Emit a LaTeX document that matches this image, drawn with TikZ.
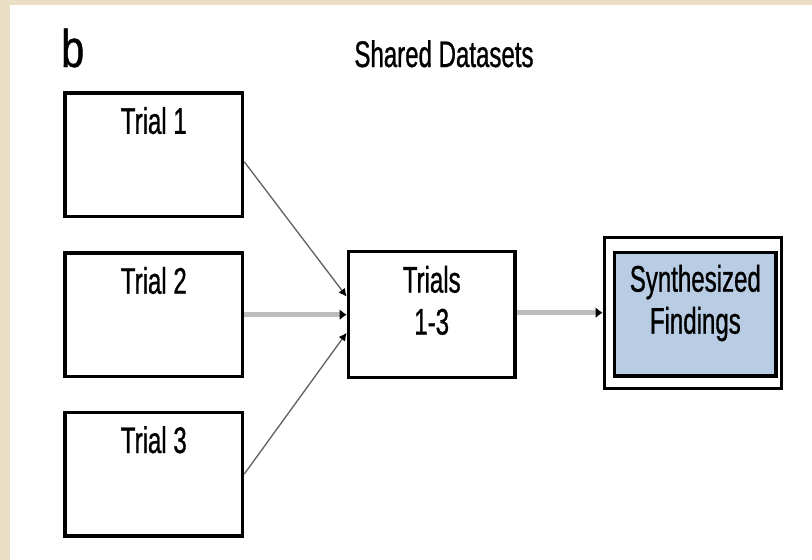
\documentclass[tikz,border=0pt]{standalone}
\usepackage{fontspec}
\setmainfont{Liberation Sans}[FakeStretch=0.65,FakeBold=0.8]
\newfontfamily\tagfont{Liberation Sans}[FakeStretch=0.78,FakeBold=0.8]
\usepackage{tikz}
\usetikzlibrary{arrows.meta,calc,positioning}
\definecolor{paper}{RGB}{234,222,197}
\definecolor{synfill}{RGB}{184,204,228}
\definecolor{feedgray}{RGB}{96,96,96}
\definecolor{maingray}{RGB}{188,188,188}

\begin{document}
\begin{tikzpicture}[x=1pt,y=1pt,
  trialbox/.style={draw,line width=3.3pt,minimum width=177.7pt,minimum height=123.7pt,inner sep=0pt},
  boxtext/.style={font=\fontsize{37}{42}\selectfont,align=center,anchor=north,inner sep=0pt},
  feedline/.style={draw=feedgray,line width=1.3pt,-{Latex[black,length=8pt,width=8pt]}},
  mainline/.style={draw=maingray,line width=5.5pt,-{Latex[black,length=7pt,width=11pt]}}]
  % page and frame
  \fill[paper] (0,0) rectangle (812,-560);
  \fill[white] (10,-5) rectangle (812,-560);
  \node[anchor=base west,inner sep=0pt,font=\tagfont\fontsize{53}{53}\selectfont] (tag) at (61,-67) {b};
  \node[anchor=base,inner sep=0pt,font=\fontsize{37}{42}\selectfont] (title) at (444,-67) {Shared Datasets};
  % boxes
  \node[trialbox] (t1) at (153.8,-154.8) {};
  \node[trialbox] (t2) at (153.8,-314.7) {};
  \node[trialbox] (t3) at (153.8,-474) {};
  \node[trialbox,minimum width=166.7pt,minimum height=126pt] (tall) at (431.7,-314.7) {};
  \node[trialbox,minimum width=177.4pt,minimum height=150.8pt] (synout) at (693,-312.9) {};
  \node[trialbox,fill=synfill,minimum width=161.3pt] (synth) at (695.35,-314.15) {};
  \node[boxtext] (t1txt) at ([yshift=-15.5pt]t1.north) {Trial 1};
  \node[boxtext] (t2txt) at ([yshift=-15.5pt]t2.north) {Trial 2};
  \node[boxtext] (t3txt) at ([yshift=-15.5pt]t3.north) {Trial 3};
  \node[boxtext] (talltxt) at ([yshift=-15.5pt]tall.north) {Trials\\1-3};
  \node[boxtext] (synthtxt) at ([yshift=-14pt]synth.north) {Synthesized\\Findings};
  % arrows
  \draw[feedline] ([yshift=-7pt]t1.east) -- ([yshift=18pt]tall.west);
  \draw[mainline] (t2.east) -- (tall.west);
  \draw[feedline] (t3.east) -- ([yshift=-18pt]tall.west);
  \draw[mainline] ([yshift=2pt]tall.east) -- ([yshift=2pt]tall.east -| synout.west);
\end{tikzpicture}
\end{document}
